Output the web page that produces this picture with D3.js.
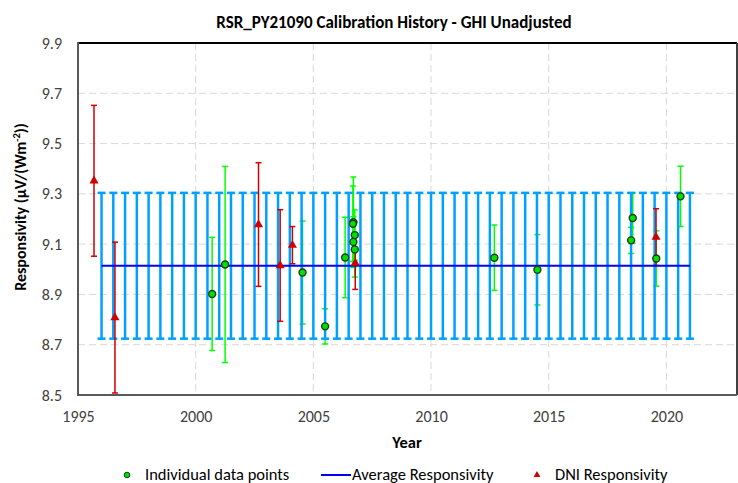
<!DOCTYPE html>
<html>
<head>
<meta charset="utf-8">
<script src="https://cdn.jsdelivr.net/npm/d3@7"></script>
<style>
  body { margin: 0; background: #fff; }
  svg text { font-family: Carlito, "Liberation Sans", Arial, sans-serif; }
</style>
</head>
<body>
<div id="chart"></div>
<script>
// average responsivity series (every half year) and its uncertainty
const avgYears = [1996, 1996.5, 1997, 1997.5, 1998, 1998.5, 1999, 1999.5, 2000, 2000.5,
  2001, 2001.5, 2002, 2002.5, 2003, 2003.5, 2004, 2004.5, 2005, 2005.5,
  2006, 2006.5, 2007, 2007.5, 2008, 2008.5, 2009, 2009.5, 2010, 2010.5,
  2011, 2011.5, 2012, 2012.5, 2013, 2013.5, 2014, 2014.5, 2015, 2015.5,
  2016, 2016.5, 2017, 2017.5, 2018, 2018.5, 2019, 2019.5, 2020, 2020.5, 2021];
const avgResp = 9.014;
const avgErr = 0.29;

// individual data points
const indYears = [2000.70, 2001.25, 2004.54, 2005.50, 2006.35, 2006.70, 2006.68, 2006.76, 2006.70, 2006.76,
  2012.69, 2014.52, 2018.50, 2018.57, 2019.57, 2020.60];
const indResp = [8.902, 9.019, 8.987, 8.773, 9.047, 9.187, 9.181, 9.136, 9.109, 9.079,
  9.046, 8.998, 9.115, 9.204, 9.043, 9.290];
const indErr = [0.225, 0.39, 0.205, 0.07, 0.16, 0.18, 0.15, 0.10, 0.10, 0.11,
  0.13, 0.14, 0.052, 0.10, 0.11, 0.12];

// DNI responsivity
const dniYears = [1995.68, 1996.57, 2002.67, 2003.59, 2004.11, 2006.78, 2019.56];
const dniResp = [9.352, 8.808, 9.178, 9.015, 9.096, 9.025, 9.128];
const dniErr = [0.30, 0.30, 0.246, 0.222, 0.074, 0.105, 0.113];

const xTicks = [1995, 2000, 2005, 2010, 2015, 2020];
const yTicks = [8.5, 8.7, 8.9, 9.1, 9.3, 9.5, 9.7, 9.9];

const w = 738, h = 483;
const pLeft = 78, pRight = 737, pTop = 43, pBottom = 395;

const x = d3.scaleLinear().domain([1995, 2023]).range([pLeft, pRight]);
const y = d3.scaleLinear().domain([8.5, 9.9]).range([pBottom, pTop]);

const svg = d3.select("#chart").append("svg")
  .attr("width", w).attr("height", h);

// grid
svg.append("g").selectAll("line")
  .data(yTicks.slice(1, -1)).enter().append("line")
  .attr("x1", pLeft).attr("x2", pRight)
  .attr("y1", d => y(d)).attr("y2", d => y(d))
  .attr("stroke", "#d9d9d9").attr("stroke-width", 1)
  .attr("stroke-dasharray", "7,4");
svg.append("g").selectAll("line")
  .data(xTicks.slice(1)).enter().append("line")
  .attr("x1", d => x(d)).attr("x2", d => x(d))
  .attr("y1", pTop).attr("y2", pBottom)
  .attr("stroke", "#d9d9d9").attr("stroke-width", 1)
  .attr("stroke-dasharray", "7,4");

// error bars helper
function errBars(g, xs, vs, es, color, sw, cap) {
  const d = xs.map((v, i) => ({ x: v, v: Array.isArray(vs) ? vs[i] : vs, e: Array.isArray(es) ? es[i] : es }));
  const sel = g.selectAll("g").data(d).enter().append("g")
    .attr("stroke", color).attr("stroke-width", sw);
  sel.append("line")
    .attr("x1", d => x(d.x)).attr("x2", d => x(d.x))
    .attr("y1", d => y(d.v + d.e)).attr("y2", d => y(d.v - d.e));
  sel.append("line")
    .attr("x1", d => x(d.x) - cap).attr("x2", d => x(d.x) + cap)
    .attr("y1", d => y(d.v + d.e)).attr("y2", d => y(d.v + d.e));
  sel.append("line")
    .attr("x1", d => x(d.x) - cap).attr("x2", d => x(d.x) + cap)
    .attr("y1", d => y(d.v - d.e)).attr("y2", d => y(d.v - d.e));
}

errBars(svg.append("g"), indYears, indResp, indErr, "#00ff00", 1.5, 3);
errBars(svg.append("g"), avgYears, avgResp, avgErr, "#00a0ff", 2.5, 4);
errBars(svg.append("g"), dniYears, dniResp, dniErr, "#d00000", 1.5, 3);

// average line
svg.append("line")
  .attr("x1", x(avgYears[0])).attr("x2", x(avgYears[avgYears.length - 1]))
  .attr("y1", y(avgResp)).attr("y2", y(avgResp))
  .attr("stroke", "#0000ff").attr("stroke-width", 2);

// markers
svg.append("g").selectAll("circle")
  .data(indYears).enter().append("circle")
  .attr("cx", d => x(d)).attr("cy", (d, i) => y(indResp[i]))
  .attr("r", 3.5)
  .attr("fill", "#00e000").attr("stroke", "#1c3d1c").attr("stroke-width", 1.4);

const tri = d3.symbol().type(d3.symbolTriangle).size(36);
svg.append("g").selectAll("path")
  .data(dniYears).enter().append("path")
  .attr("d", tri)
  .attr("transform", (d, i) => "translate(" + x(d) + "," + y(dniResp[i]) + ")")
  .attr("fill", "#d00000");

// frame
svg.append("line").attr("x1", pLeft).attr("x2", pRight).attr("y1", pTop).attr("y2", pTop)
  .attr("stroke", "#000").attr("stroke-width", 2);
svg.append("line").attr("x1", pRight).attr("x2", pRight).attr("y1", pTop).attr("y2", pBottom)
  .attr("stroke", "#404040").attr("stroke-width", 2);
svg.append("line").attr("x1", pLeft).attr("x2", pLeft).attr("y1", pTop - 1).attr("y2", pBottom + 1)
  .attr("stroke", "#595959").attr("stroke-width", 2);
svg.append("line").attr("x1", pLeft - 1).attr("x2", pRight).attr("y1", pBottom).attr("y2", pBottom)
  .attr("stroke", "#595959").attr("stroke-width", 2);

// axes
const yAxis = d3.axisLeft(y).tickValues(yTicks).tickFormat(d3.format(".1f")).tickSize(0).tickPadding(0);
const gy = svg.append("g").attr("transform", "translate(" + (pLeft - 16) + ",0)").call(yAxis);
gy.select(".domain").remove();
gy.selectAll("text").attr("font-size", 16).attr("fill", "#404040");

const xAxis = d3.axisBottom(x).tickValues(xTicks).tickFormat(d3.format("d")).tickSize(0).tickPadding(0);
const gx = svg.append("g").attr("transform", "translate(0," + (pBottom + 16) + ")").call(xAxis);
gx.select(".domain").remove();
gx.selectAll("text").attr("font-size", 16).attr("fill", "#404040");

// titles
svg.append("text")
  .attr("x", 394).attr("y", 28)
  .attr("text-anchor", "middle")
  .attr("font-size", 17).attr("font-weight", "bold")
  .text("RSR_PY21090 Calibration History - GHI Unadjusted");

svg.append("text")
  .attr("x", 407).attr("y", 448)
  .attr("text-anchor", "middle")
  .attr("font-size", 16.5).attr("font-weight", "bold")
  .text("Year");

const yt = svg.append("text")
  .attr("transform", "translate(26,207) rotate(-90)")
  .attr("text-anchor", "middle")
  .attr("font-size", 16).attr("font-weight", "bold");
yt.append("tspan").text("Responsivity (\u00b5V/(Wm");
yt.append("tspan").attr("dy", -6).attr("font-size", 10.5).text("-2");
yt.append("tspan").attr("dy", 6).text("))");

// legend
const lg = svg.append("g").attr("font-size", 16.5).attr("fill", "#000");
lg.append("circle").attr("cx", 127).attr("cy", 475).attr("r", 2.8)
  .attr("fill", "#00e000").attr("stroke", "#1c3d1c").attr("stroke-width", 1);
lg.append("text").attr("x", 145).attr("y", 480).text("Individual data points");
lg.append("line").attr("x1", 321).attr("x2", 351).attr("y1", 475).attr("y2", 475)
  .attr("stroke", "#0000ff").attr("stroke-width", 2);
lg.append("text").attr("x", 352).attr("y", 480).text("Average Responsivity");
lg.append("path").attr("d", d3.symbol().type(d3.symbolTriangle).size(20))
  .attr("transform", "translate(537,475)").attr("fill", "#d00000");
lg.append("text").attr("x", 555).attr("y", 480).text("DNI Responsivity");
</script>
</body>
</html>
